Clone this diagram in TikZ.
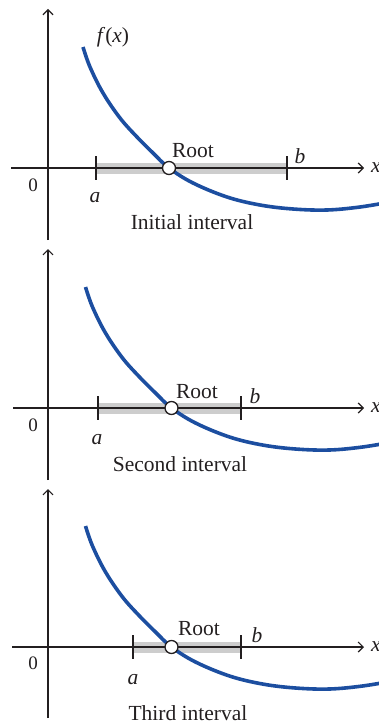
\documentclass[tikz,border=0pt]{standalone}
\usepackage{fontspec}
\setmainfont{Liberation Serif}
\usetikzlibrary{arrows.meta}
\definecolor{curveblue}{RGB}{28,78,160}
\definecolor{bandgray}{RGB}{205,205,205}
\definecolor{inkdark}{RGB}{35,31,32}
\begin{document}
\begin{tikzpicture}[x=1pt,y=-1pt,
  axisline/.style={inkdark,line width=1.5pt,-{Straight Barb[length=5pt,width=10pt,line width=1.2pt]}},
  fcurve/.style={curveblue,line width=3.6pt},
  band/.style={bandgray,line width=11pt},
  endtick/.style={inkdark,line width=2.2pt},
  rootdot/.style={circle,draw=inkdark,fill=white,line width=1.3pt,minimum size=13pt,inner sep=0pt},
  lbl/.style={text=inkdark,font=\fontsize{21.5}{25}\selectfont,inner sep=0pt},
  zlbl/.style={text=inkdark,font=\fontsize{19}{22}\selectfont,inner sep=0pt}
]
\useasboundingbox (0,0) rectangle (379,725);
\def\fpath{plot[smooth,tension=0.6] coordinates {(83,-121) (90,-101) (103,-75) (120,-50) (137,-31) (153,-15) (169,0) (193,15) (227,29) (260,37) (293,41) (327,42) (360,39) (390,34)}}

% ---------- Panel 1 ----------
\begin{scope}[shift={(0,168)}]
  \coordinate (xs1) at (11,0);  \coordinate (xe1) at (364,0);
  \coordinate (ys1) at (48,72); \coordinate (ye1) at (48,-159);
  \coordinate (a1) at (96,0);   \coordinate (b1) at (287,0);
  \draw[band] (a1) -- (b1);
  \draw[axisline] (xs1) -- (xe1);
  \draw[axisline] (ys1) -- (ye1);
  \draw[endtick] ([yshift=12pt]a1) -- ([yshift=-12pt]a1);
  \draw[endtick] ([yshift=12pt]b1) -- ([yshift=-12pt]b1);
  \draw[fcurve] \fpath;
  \node[rootdot] (r1) at (169,0) {};
  \node[lbl] (fx1) at (113,-131) {\textit{f}(\textit{x})};
  \node[lbl,anchor=west] (xl1) at (371,0) {\textit{x}};
  \node[zlbl] (z1) at (33,17) {0};
  \node[lbl] (al1) at (95,30) {\textit{a}};
  \node[lbl] (bl1) at (300,-12) {\textit{b}};
  \node[lbl] (rl1) at (193,-17) {Root};
  \node[lbl] (c1) at (192,54) {Initial interval};
\end{scope}

% ---------- Panel 2 ----------
\begin{scope}[shift={(0,408)}]
  \coordinate (xs2) at (13,0);  \coordinate (xe2) at (364,0);
  \coordinate (ys2) at (48,72); \coordinate (ye2) at (48,-159);
  \coordinate (a2) at (98,0);   \coordinate (b2) at (241,0);
  \draw[band] (a2) -- (b2);
  \draw[axisline] (xs2) -- (xe2);
  \draw[axisline] (ys2) -- (ye2);
  \draw[endtick] ([yshift=12pt]a2) -- ([yshift=-12pt]a2);
  \draw[endtick] ([yshift=12pt]b2) -- ([yshift=-12pt]b2);
  \begin{scope}[xshift=2.5pt]
    \draw[fcurve] \fpath;
    \node[rootdot] (r2) at (169,0) {};
  \end{scope}
  \node[lbl,anchor=west] (xl2) at (371,0) {\textit{x}};
  \node[zlbl] (z2) at (33,17) {0};
  \node[lbl] (al2) at (97,32) {\textit{a}};
  \node[lbl] (bl2) at (255,-12) {\textit{b}};
  \node[lbl] (rl2) at (197,-16) {Root};
  \node[lbl] (c2) at (180,56) {Second interval};
\end{scope}

% ---------- Panel 3 ----------
\begin{scope}[shift={(0,647)}]
  \coordinate (xs3) at (12,0);  \coordinate (xe3) at (364,0);
  \coordinate (ys3) at (48,71); \coordinate (ye3) at (48,-158);
  \coordinate (a3) at (133,0);  \coordinate (b3) at (241,0);
  \draw[band] (a3) -- (b3);
  \draw[axisline] (xs3) -- (xe3);
  \draw[axisline] (ys3) -- (ye3);
  \draw[endtick] ([yshift=12pt]a3) -- ([yshift=-12pt]a3);
  \draw[endtick] ([yshift=12pt]b3) -- ([yshift=-12pt]b3);
  \begin{scope}[xshift=2.5pt]
    \draw[fcurve] \fpath;
    \node[rootdot] (r3) at (169,0) {};
  \end{scope}
  \node[lbl,anchor=west] (xl3) at (371,0) {\textit{x}};
  \node[zlbl] (z3) at (33,16) {0};
  \node[lbl] (al3) at (133,33) {\textit{a}};
  \node[lbl] (bl3) at (257,-12) {\textit{b}};
  \node[lbl] (rl3) at (199,-18) {Root};
  \node[lbl] (c3) at (188,66) {Third interval};
\end{scope}
\end{tikzpicture}
\end{document}
